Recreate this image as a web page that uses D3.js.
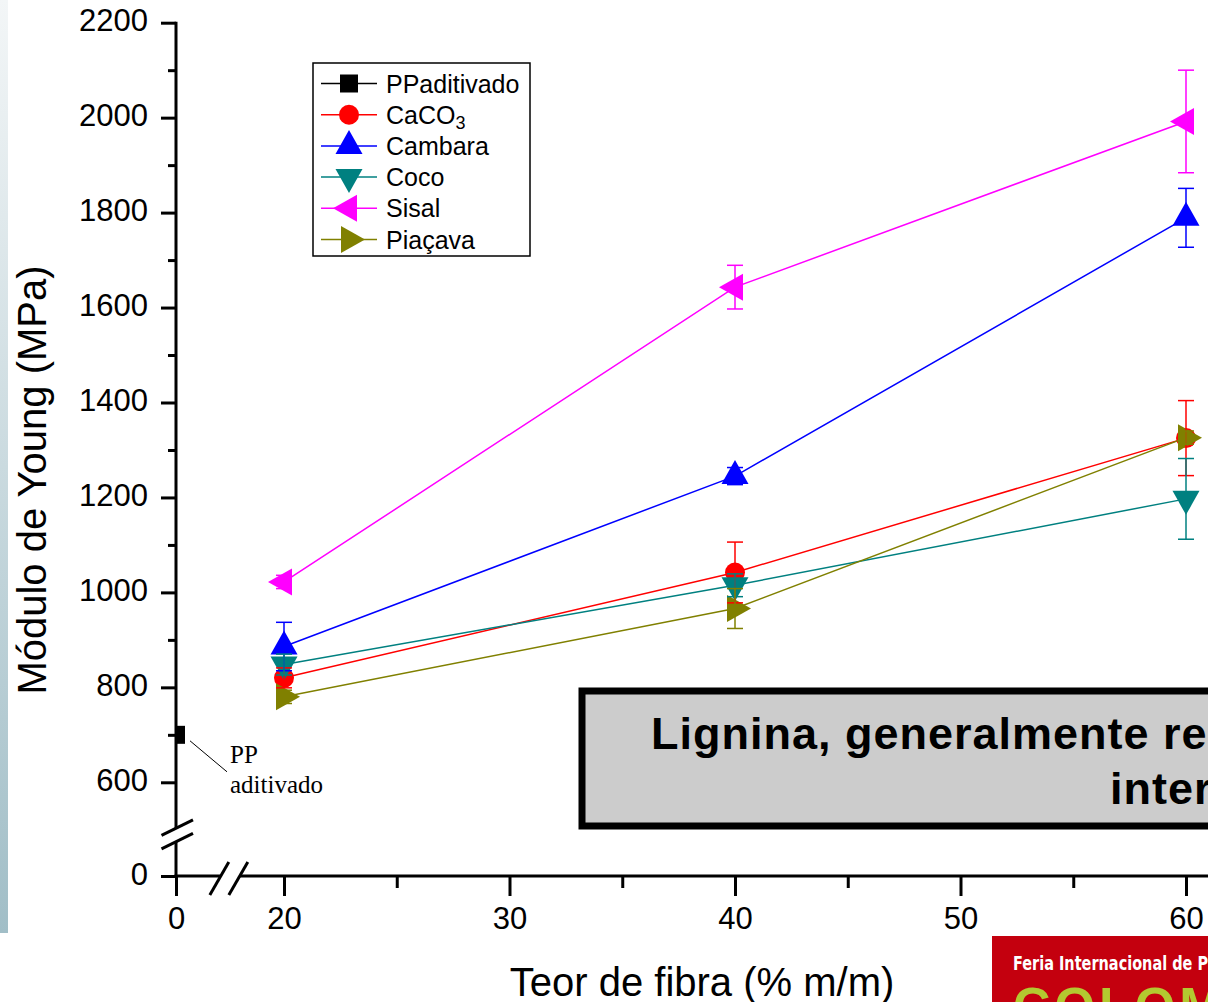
<!DOCTYPE html>
<html>
<head>
<meta charset="utf-8">
<script src="https://cdn.jsdelivr.net/npm/d3@7"></script>
<style>
  html, body { margin: 0; padding: 0; background: #ffffff; }
  svg { display: block; }
</style>
</head>
<body>
<svg id="chart" width="1208" height="1002"></svg>
<script>
// Fibre content (% m/m) of the composites
const fiberContent = [20, 40, 60];

// Neat additivated PP (single point at 0 % fibre)
const ppFiber = [0];
const ppModulus = [700];

// Young's modulus (MPa) and standard deviations per filler
const caco3 = [820, 1042, 1325];
const caco3Err = [21, 64, 79];
const cambara = [886, 1245, 1789];
const cambaraErr = [51, 18, 62];
const coco = [848, 1015, 1197];
const cocoErr = [22, 24, 85];
const sisal = [1022, 1643, 1992];
const sisalErr = [14, 46, 108];
const piacava = [780, 966, 1326];
const piacavaErr = [14, 42, 14];

// Axis ticks
const yTicksMain = [600, 800, 1000, 1200, 1400, 1600, 1800, 2000, 2200];
const yTicksMinor = [700, 900, 1100, 1300, 1500, 1700, 1900, 2100];
const xTicksMain = [20, 30, 40, 50, 60];
const xTicksMinor = [25, 35, 45, 55];

const series = [
  { name: "CaCO3", values: caco3, errors: caco3Err, color: "#ff0000", shape: "circle" },
  { name: "Cambara", values: cambara, errors: cambaraErr, color: "#0000ff", shape: "up" },
  { name: "Coco", values: coco, errors: cocoErr, color: "#008080", shape: "down" },
  { name: "Sisal", values: sisal, errors: sisalErr, color: "#ff00ff", shape: "left" },
  { name: "Piaçava", values: piacava, errors: piacavaErr, color: "#808000", shape: "right" }
];

const svg = d3.select("#chart");
const FONT = "'Liberation Sans', Arial, sans-serif";

// Slide side strip
const defs = svg.append("defs");
const grad = defs.append("linearGradient").attr("id", "strip")
  .attr("x1", 0).attr("y1", 0).attr("x2", 0).attr("y2", 1);
grad.append("stop").attr("offset", "0%").attr("stop-color", "#f3f6f7");
grad.append("stop").attr("offset", "100%").attr("stop-color", "#a1bec7");
svg.append("rect").attr("x", 0).attr("y", 0).attr("width", 8).attr("height", 933)
  .attr("fill", "url(#strip)");

// Scales: broken axes (low segment near 0, main segment for the data)
const pxPerX = 22.55;
const xHigh = d3.scaleLinear().domain([20, 60]).range([284, 1186]);
const xLow = d3.scaleLinear().domain([0, 1]).range([176, 176 + pxPerX]);
const yHigh = d3.scaleLinear().domain([600, 2200]).range([782.3, 22.7]);
const yLow = d3.scaleLinear().domain([0, 100]).range([876, 876 - 47.5]);

const axisX0 = xLow(0);
const axisY0 = yLow(0);

// Clip for the data layer
defs.append("clipPath").attr("id", "plotClip").append("rect")
  .attr("x", axisX0).attr("y", 0).attr("width", 1208 - axisX0).attr("height", axisY0);

// ---- Axes ----
const axisG = svg.append("g");
const axisStroke = 3;

// Y axis lines (with gap for the break)
axisG.append("line").attr("x1", axisX0).attr("x2", axisX0)
  .attr("y1", yHigh(2200) - 1).attr("y2", yHigh(503))
  .attr("stroke", "#000").attr("stroke-width", axisStroke);
axisG.append("line").attr("x1", axisX0).attr("x2", axisX0)
  .attr("y1", yLow(72)).attr("y2", axisY0 + 1.5)
  .attr("stroke", "#000").attr("stroke-width", axisStroke);

// X axis lines
axisG.append("line").attr("x1", axisX0 - 1.5).attr("x2", xLow(1.95))
  .attr("y1", axisY0).attr("y2", axisY0)
  .attr("stroke", "#000").attr("stroke-width", axisStroke);
axisG.append("line").attr("x1", xHigh(18.05)).attr("x2", 1208)
  .attr("y1", axisY0).attr("y2", axisY0)
  .attr("stroke", "#000").attr("stroke-width", axisStroke);

function styleAxis(g) {
  g.select(".domain").remove();
  g.selectAll(".tick line").attr("stroke", "#000").attr("stroke-width", axisStroke);
  g.selectAll(".tick text").attr("font-family", FONT).attr("font-size", 31).attr("fill", "#000");
}

// Y major / minor ticks
axisG.append("g").attr("transform", `translate(${axisX0},0)`)
  .call(d3.axisLeft(yHigh).tickValues(yTicksMain).tickSize(15).tickPadding(13).tickFormat(d3.format("d")))
  .call(styleAxis)
  .call(g => g.selectAll(".tick text").attr("dy", "0.26em"));
axisG.append("g").attr("transform", `translate(${axisX0},0)`)
  .call(d3.axisLeft(yHigh).tickValues(yTicksMinor).tickSize(8).tickFormat(""))
  .call(styleAxis);
axisG.append("g").attr("transform", `translate(${axisX0},0)`)
  .call(d3.axisLeft(yLow).tickValues([0]).tickSize(15).tickPadding(13).tickFormat(d3.format("d")))
  .call(styleAxis)
  .call(g => g.selectAll(".tick text").attr("dy", "0.26em"));

// X major / minor ticks
axisG.append("g").attr("transform", `translate(0,${axisY0})`)
  .call(d3.axisBottom(xHigh).tickValues(xTicksMain).tickSize(20).tickPadding(11).tickFormat(d3.format("d")))
  .call(styleAxis);
axisG.append("g").attr("transform", `translate(0,${axisY0})`)
  .call(d3.axisBottom(xHigh).tickValues(xTicksMinor).tickSize(12).tickFormat(""))
  .call(styleAxis);
axisG.append("g").attr("transform", `translate(0,${axisY0})`)
  .call(d3.axisBottom(xLow).tickValues([0]).tickSize(20).tickPadding(11).tickFormat(d3.format("d")))
  .call(styleAxis);

// Break marks
const breakG = axisG.append("g").attr("stroke", "#000").attr("stroke-width", 3);
[[0, 0], [0, 13.5]].forEach(([dx, dy]) => {
  breakG.append("line")
    .attr("x1", axisX0 - 14.5).attr("y1", yHigh(503) + 7 + dy)
    .attr("x2", axisX0 + 17).attr("y2", yHigh(503) - 8.5 + dy);
});
[0, 19].forEach(dx => {
  breakG.append("line")
    .attr("x1", xLow(1.5) + dx).attr("y1", axisY0 + 19)
    .attr("x2", xLow(1.5) + 19 + dx).attr("y2", axisY0 - 14);
});

// Axis titles
svg.append("text")
  .attr("x", 702).attr("y", 996)
  .attr("text-anchor", "middle")
  .attr("font-family", FONT).attr("font-size", 40).attr("fill", "#000")
  .text("Teor de fibra (% m/m)");
svg.append("text")
  .attr("transform", "translate(46,480) rotate(-90)")
  .attr("text-anchor", "middle")
  .attr("font-family", FONT).attr("font-size", 40).attr("fill", "#000")
  .text("Módulo de Young (MPa)");

// ---- Markers ----
function markerPath(shape) {
  const b = 27, h = 24;
  switch (shape) {
    case "square": return d3.symbol(d3.symbolSquare, 18 * 18)();
    case "circle": return d3.symbol(d3.symbolCircle, Math.PI * 10 * 10)();
    case "up": return `M0,${-2 * h / 3}L${b / 2},${h / 3}L${-b / 2},${h / 3}Z`;
    case "down": return `M0,${2 * h / 3}L${b / 2},${-h / 3}L${-b / 2},${-h / 3}Z`;
    case "left": return `M${-2 * h / 3},0L${h / 3},${-b / 2}L${h / 3},${b / 2}Z`;
    case "right": return `M${2 * h / 3},0L${-h / 3},${-b / 2}L${-h / 3},${b / 2}Z`;
  }
}

const plot = svg.append("g").attr("clip-path", "url(#plotClip)");

// PP aditivado point
plot.selectAll(".pp").data(ppFiber.map((f, i) => ({ f, v: ppModulus[i] })))
  .enter().append("path")
  .attr("transform", d => `translate(${xLow(d.f)},${yHigh(d.v)})`)
  .attr("d", markerPath("square")).attr("fill", "#000");

// Composite series: lines then symbols
const lineGen = d3.line().x(d => xHigh(d.f)).y(d => yHigh(d.v));
series.forEach(s => {
  const pts = fiberContent.map((f, i) => ({ f, v: s.values[i], e: s.errors[i] }));
  s.pts = pts;
  plot.append("path").datum(pts).attr("d", lineGen)
    .attr("fill", "none").attr("stroke", s.color).attr("stroke-width", 1.5);
  plot.selectAll(null).data(pts).enter().append("path")
    .attr("transform", d => `translate(${xHigh(d.f)},${yHigh(d.v)})`)
    .attr("d", markerPath(s.shape)).attr("fill", s.color);
});

// Error bars on top of the symbols
series.forEach(s => {
  const eg = plot.append("g").attr("stroke", s.color).attr("stroke-width", 1.5);
  s.pts.forEach(d => {
    const x = xHigh(d.f), yt = yHigh(d.v + d.e), yb = yHigh(d.v - d.e);
    eg.append("line").attr("x1", x).attr("x2", x).attr("y1", yt).attr("y2", yb);
    eg.append("line").attr("x1", x - 8).attr("x2", x + 8).attr("y1", yt).attr("y2", yt);
    eg.append("line").attr("x1", x - 8).attr("x2", x + 8).attr("y1", yb).attr("y2", yb);
  });
});

// Annotation for the neat PP point
const ppX = xLow(ppFiber[0]), ppY = yHigh(ppModulus[0]);
svg.append("line")
  .attr("x1", ppX + 14).attr("y1", ppY + 6).attr("x2", ppX + 51).attr("y2", ppY + 37)
  .attr("stroke", "#000").attr("stroke-width", 1);
const ann = svg.append("text").attr("font-family", "'Liberation Serif', 'Times New Roman', serif")
  .attr("font-size", 25).attr("fill", "#000");
ann.append("tspan").attr("x", ppX + 54).attr("y", ppY + 28).text("PP");
ann.append("tspan").attr("x", ppX + 54).attr("y", ppY + 58).text("aditivado");

// ---- Legend ----
const legend = svg.append("g").attr("transform", "translate(313,63)");
legend.append("rect").attr("x", 0).attr("y", 0).attr("width", 217).attr("height", 193)
  .attr("fill", "#fff").attr("stroke", "#000").attr("stroke-width", 1.5);
const legendItems = [{ name: "PPaditivado", color: "#000", shape: "square" }].concat(series);
legendItems.forEach((s, i) => {
  const y = 20.5 + i * 31.2;
  const row = legend.append("g").attr("transform", `translate(0,${y})`);
  row.append("line").attr("x1", 8).attr("x2", 64).attr("y1", 0).attr("y2", 0)
    .attr("stroke", s.color).attr("stroke-width", 1.5);
  row.append("path").attr("transform", "translate(36,0)")
    .attr("d", markerPath(s.shape)).attr("fill", s.color);
  const t = row.append("text").attr("x", 73).attr("y", 9)
    .attr("font-family", FONT).attr("font-size", 25).attr("fill", "#000");
  if (s.name === "CaCO3") {
    t.append("tspan").text("CaCO");
    t.append("tspan").attr("font-size", 18).attr("dy", 5).text("3");
  } else {
    t.text(s.name);
  }
});

// ---- Callout box ----
svg.append("rect").attr("x", 582).attr("y", 691).attr("width", 700).attr("height", 135)
  .attr("fill", "#cccccc").attr("stroke", "#000").attr("stroke-width", 7);
const callout = svg.append("text").attr("font-family", FONT).attr("font-weight", "bold")
  .attr("font-size", 45).attr("letter-spacing", 1).attr("fill", "#000");
callout.append("tspan").attr("x", 651).attr("y", 749).text("Lignina, generalmente re");
callout.append("tspan").attr("x", 1110).attr("y", 804).text("inter");

// ---- Event banner ----
svg.append("rect").attr("x", 992).attr("y", 936).attr("width", 216).attr("height", 66)
  .attr("fill", "#c4000e");
svg.append("text").attr("x", 1013).attr("y", 970)
  .attr("font-family", "'Liberation Sans Narrow', 'DejaVu Sans Condensed', " + FONT)
  .attr("font-weight", "bold").attr("font-size", 19).attr("fill", "#ffffff")
  .attr("textLength", 200).attr("lengthAdjust", "spacingAndGlyphs")
  .text("Feria Internacional de Pl");
svg.append("text").attr("x", 1013).attr("y", 1024)
  .attr("font-family", FONT).attr("font-weight", "bold").attr("font-size", 52)
  .attr("fill", "#b3c930").attr("letter-spacing", 4)
  .text("COLOM");
</script>
</body>
</html>
